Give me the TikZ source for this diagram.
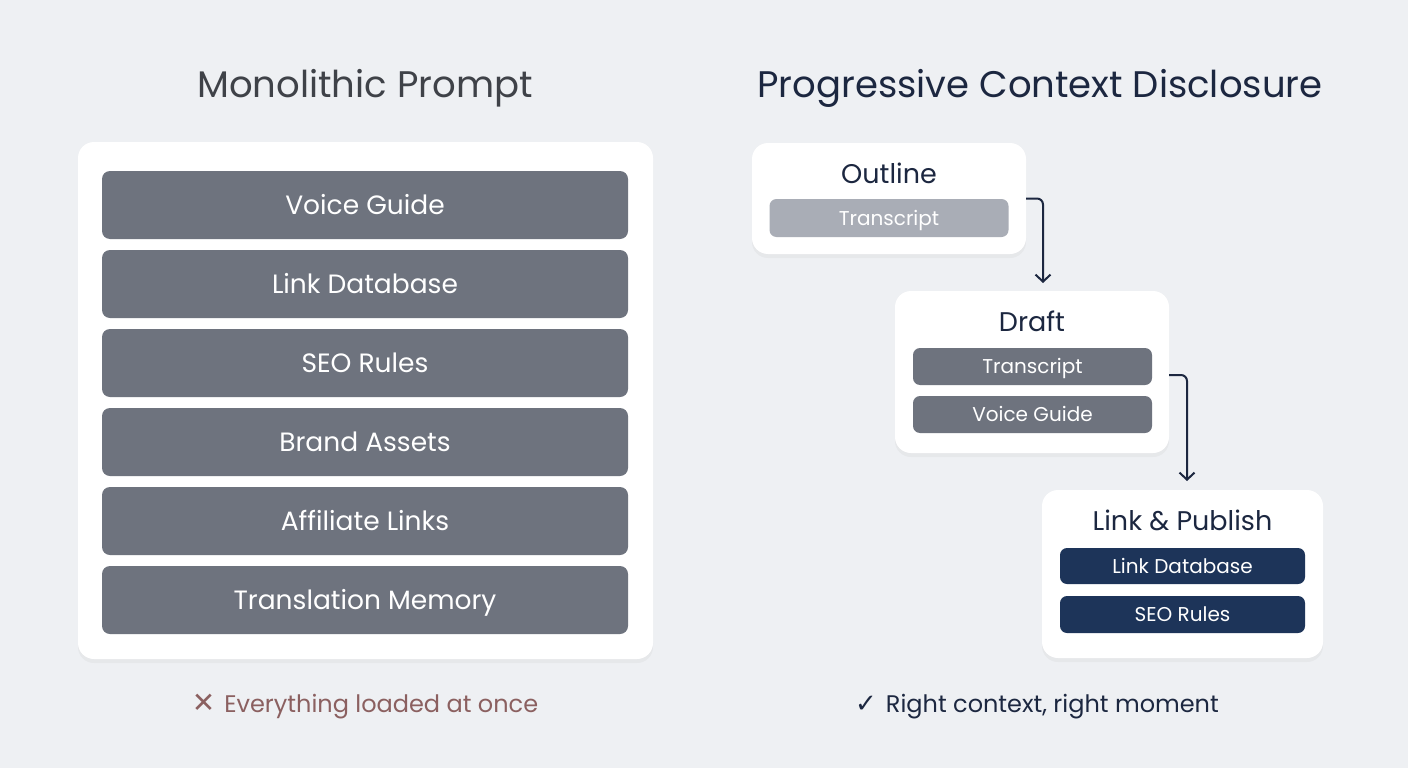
\documentclass[tikz,border=0pt]{standalone}
\usepackage{fontspec}
\setmainfont{Poppins}
\newfontfamily\symfont{DejaVu Sans}
\usetikzlibrary{arrows.meta,shadows}
\definecolor{bg}{HTML}{EEF0F3}
\definecolor{barGray}{HTML}{6E737E}
\definecolor{barLight}{HTML}{A9ADB6}
\definecolor{barNavy}{HTML}{1D3459}
\definecolor{navyText}{HTML}{1C2740}
\definecolor{titleGray}{HTML}{3F4248}
\definecolor{badRed}{HTML}{8B6060}
\tikzset{
  panel/.style={fill=white, rounded corners=16pt, inner sep=0pt,
    drop shadow={opacity=0.07, shadow xshift=0pt, shadow yshift=-4pt}},
  bigbar/.style={fill=barGray, rounded corners=8pt, minimum width=526pt,
    minimum height=68pt, inner sep=0pt, text=white, text height=18.5pt, text depth=0pt,
    font=\fontsize{26.5}{30}\selectfont},
  smallbar/.style={rounded corners=7pt, minimum width=239pt, minimum height=37pt,
    inner sep=0pt, text=white, text height=14pt, text depth=0pt,
    font=\fontsize{20}{24}\selectfont},
  cardtitle/.style={text=navyText, text height=19pt, text depth=0pt,
    font=\fontsize{27}{31}\selectfont, inner sep=0pt},
  flow/.style={draw=navyText, line width=2pt, rounded corners=6pt,
    -{Straight Barb[length=7pt,width=15pt]}},
  headline/.style={text height=26pt, text depth=0pt, font=\fontsize{37}{42}\selectfont, inner sep=0pt},
  footnote/.style={text height=17pt, text depth=0pt, font=\fontsize{24}{28}\selectfont, inner sep=0pt}
}
\begin{document}
\begin{tikzpicture}[x=1pt,y=-1pt]
\fill[bg] (0,0) rectangle (1408,768);
\useasboundingbox (0,0) rectangle (1408,768);

% titles
\node[headline, text=titleGray] (tleft) at (365,84) {Monolithic Prompt};
\node[headline, text=navyText] (tright) at (1040,84) {Progressive Context Disclosure};

% left panel
\node[panel, minimum width=575pt, minimum height=517pt] (lp) at (365.5,400.5) {};
\node[bigbar] (v) at (365,205) {Voice Guide};
\node[bigbar] (ld) at (365,284) {Link Database};
\node[bigbar] (seo) at (365,363) {SEO Rules};
\node[bigbar] (ba) at (365,442) {Brand Assets};
\node[bigbar] (al) at (365,521) {Affiliate Links};
\node[bigbar] (tm) at (365,600) {Translation Memory};

% right cards
\node[panel, minimum width=274pt, minimum height=111pt] (c1) at (889,198.5) {};
\node[cardtitle] (t1) at (889,174) {Outline};
\node[smallbar, fill=barLight, minimum height=38pt] (b11) at (889,218) {Transcript};

\node[panel, minimum width=274pt, minimum height=162pt] (c2) at (1032,372) {};
\node[cardtitle] (t2) at (1032,322) {Draft};
\node[smallbar, fill=barGray] (b21) at (1032.5,366.5) {Transcript};
\node[smallbar, fill=barGray] (b22) at (1032.5,414.5) {Voice Guide};

\node[panel, minimum width=281pt, minimum height=168pt] (c3) at (1182.5,574) {};
\node[cardtitle] (t3) at (1182.5,521) {Link \& Publish};
\node[smallbar, fill=barNavy, minimum width=245pt, minimum height=36pt] (b31) at (1182.5,566) {Link Database};
\node[smallbar, fill=barNavy, minimum width=245pt] (b32) at (1182.5,614.5) {SEO Rules};

% connectors
\coordinate (e1) at (1043,283);
\coordinate (e2) at (1187,481);
\draw[flow] (c1.east) -| (e1);
\draw[flow] ([yshift=-3pt]c2.east) -| (e2);

% footers
\node[footnote, text=badRed] (fl) at (365,704) {{\symfont\fontsize{28}{30}\selectfont ✕}\hspace{9pt}Everything loaded at once};
\node[footnote, text=navyText] (fr) at (1037,704) {{\symfont\fontsize{26}{30}\selectfont ✓}\hspace{9pt}Right context, right moment};
\end{tikzpicture}
\end{document}
